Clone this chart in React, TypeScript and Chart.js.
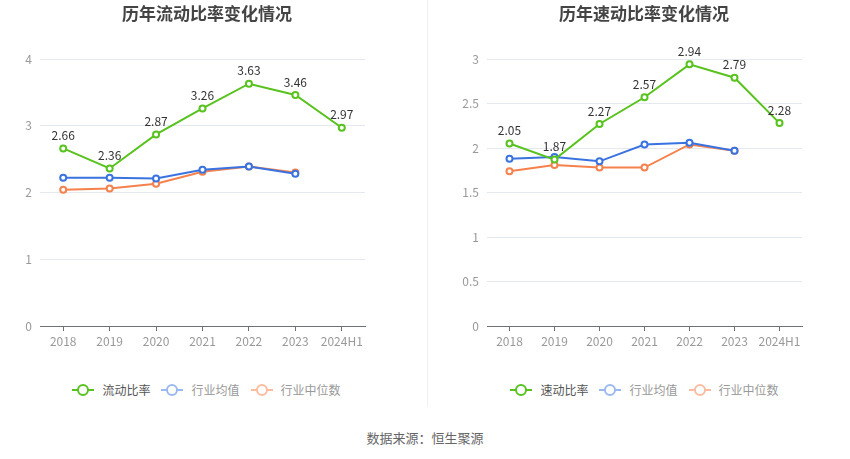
import { Chart, registerables } from 'chart.js';
import React, { useEffect, useRef } from 'react';

Chart.register(...registerables);

const years = ['2018', '2019', '2020', '2021', '2022', '2023', '2024H1'];

const currentRatio = [2.66, 2.36, 2.87, 3.26, 3.63, 3.46, 2.97];
const currentIndustryAvg = [2.22, 2.22, 2.21, 2.34, 2.39, 2.28, null];
const currentIndustryMedian = [2.04, 2.06, 2.13, 2.31, 2.39, 2.3, null];

const quickRatio = [2.05, 1.87, 2.27, 2.57, 2.94, 2.79, 2.28];
const quickIndustryAvg = [1.88, 1.9, 1.85, 2.04, 2.06, 1.97, null];
const quickIndustryMedian = [1.74, 1.81, 1.78, 1.78, 2.04, 1.97, null];

const GREEN = '#58c21e';
const BLUE = '#3a73e0';
const ORANGE = '#f5814d';
const FONT = '"Noto Sans CJK SC", "Noto Sans", sans-serif';

// labels above the main series only
const valueLabels = {
  id: 'valueLabels',
  afterDatasetsDraw(chart: any) {
    const ctx = chart.ctx;
    const meta = chart.getDatasetMeta(0);
    const data = chart.data.datasets[0].data;
    ctx.save();
    ctx.font = '12px ' + FONT;
    ctx.fillStyle = '#333';
    ctx.textAlign = 'center';
    ctx.textBaseline = 'bottom';
    meta.data.forEach((pt: any, i: number) => {
      ctx.fillText(Number(data[i]).toFixed(2), pt.x, pt.y - 7);
    });
    ctx.restore();
  },
};

const LegendItem = ({ color, text, dark }: any) => (
  <div style={{ display: 'flex', alignItems: 'center', marginRight: 11 }}>
    <div style={{ position: 'relative', width: 22, height: 14, marginRight: 8 }}>
      <div style={{ position: 'absolute', left: 0, top: 6, width: 22, height: 2, background: color }} />
      <div
        style={{
          position: 'absolute', left: 5, top: 1, width: 8, height: 8,
          borderRadius: '50%', border: '2px solid ' + color, background: '#fff',
        }}
      />
    </div>
    <span style={{ color: dark ? '#555' : '#999', fontSize: 12 }}>{text}</span>
  </div>
);

const Panel = ({ left, title, main, mainLabel, avg, median, max, step, axisWidth, rightPad, titleX, legendX }: any) => {
  const canvasRef = useRef<HTMLCanvasElement>(null);

  useEffect(() => {
    const series = (label: string, data: any[], color: string) => ({
      label,
      data,
      borderColor: color,
      backgroundColor: '#fff',
      borderWidth: 2,
      pointRadius: 3,
      pointBorderWidth: 2,
      pointBackgroundColor: '#fff',
      pointBorderColor: color,
      tension: 0,
    });
    const chart = new Chart(canvasRef.current as HTMLCanvasElement, {
      type: 'line',
      data: {
        labels: years,
        datasets: [
          series(mainLabel, main, GREEN),
          series('行业均值', avg, BLUE),
          series('行业中位数', median, ORANGE),
        ],
      },
      options: {
        animation: false,
        responsive: false,
        layout: { padding: { top: 59, right: rightPad, left: 0, bottom: 0 } },
        plugins: { legend: { display: false }, title: { display: false }, tooltip: { enabled: false } },
        scales: {
          x: {
            offset: true,
            grid: { drawOnChartArea: false, tickLength: 5, color: '#6e7079' },
            border: { color: '#6e7079' },
            ticks: { color: '#999', font: { size: 12, family: FONT }, padding: 3, maxRotation: 0, autoSkip: false },
            afterFit: (s: any) => { s.height = 34; },
          },
          y: {
            min: 0,
            max: max,
            ticks: {
              stepSize: step,
              color: '#999',
              font: { size: 12, family: FONT },
              padding: 8,
              callback: (v: any) => String(Number(v)),
            },
            grid: { color: '#e6e8ef', drawTicks: false },
            border: { display: false },
            afterFit: (s: any) => { s.width = axisWidth; },
          },
        },
      },
      plugins: [valueLabels],
    });
    return () => chart.destroy();
  }, []);

  return (
    <div style={{ position: 'absolute', left, top: 0, width: 425, height: 459 }}>
      <canvas ref={canvasRef} width={425} height={360} style={{ position: 'absolute', left: 0, top: 0 }} />
      <div
        style={{
          position: 'absolute', top: 0, left: titleX - 150, width: 300, textAlign: 'center',
          fontSize: 17, fontWeight: 'bold', color: '#444',
        }}
      >
        {title}
      </div>
      <div
        style={{
          position: 'absolute', top: 381, left: legendX - 200, width: 400,
          display: 'flex', justifyContent: 'center',
        }}
      >
        <LegendItem color={GREEN} text={mainLabel} dark />
        <LegendItem color="#9bb9f0" text="行业均值" />
        <LegendItem color="#fbbda2" text="行业中位数" />
      </div>
    </div>
  );
};

const App = () => {
  return (
    <div
      style={{
        position: 'absolute', left: 0, top: 0, width: 850, height: 459,
        background: '#fff', fontFamily: FONT, overflow: 'hidden',
      }}
    >
      <Panel
        left={0}
        title="历年流动比率变化情况"
        main={currentRatio}
        mainLabel="流动比率"
        avg={currentIndustryAvg}
        median={currentIndustryMedian}
        max={4}
        step={1}
        axisWidth={40}
        rightPad={60}
        titleX={207}
        legendX={212}
      />
      <Panel
        left={425}
        title="历年速动比率变化情况"
        main={quickRatio}
        mainLabel="速动比率"
        avg={quickIndustryAvg}
        median={quickIndustryMedian}
        max={3}
        step={0.5}
        axisWidth={62}
        rightPad={48}
        titleX={219}
        legendX={225}
      />
      <div style={{ position: 'absolute', left: 427, top: 0, width: 1, height: 407, background: '#f0f0f0' }} />
      <div
        style={{
          position: 'absolute', top: 428, left: 0, width: 850, textAlign: 'center',
          fontSize: 13, color: '#666',
        }}
      >
        数据来源：恒生聚源
      </div>
    </div>
  );
};

export default App;
